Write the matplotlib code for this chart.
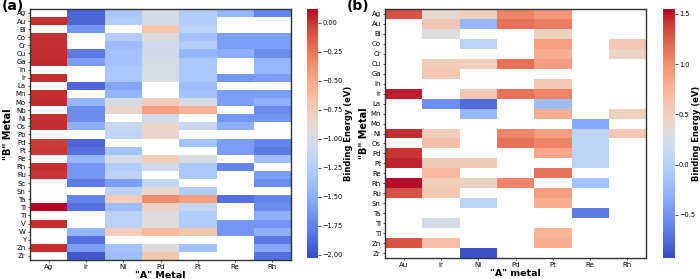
import numpy as np
import matplotlib
matplotlib.use("Agg")
import matplotlib.pyplot as plt

nan = np.nan

# ---- panel (a) ----
a_rows = ["Ag", "Au", "Bi", "Co", "Cr", "Cu", "Ga", "In", "Ir", "La", "Mn", "Mo",
          "Nb", "Ni", "Os", "Pb", "Pd", "Pt", "Re", "Rh", "Ru", "Sc", "Sn", "Ta",
          "Ti", "Tl", "V", "W", "Y", "Zn", "Zr"]
a_cols = ["Ag", "Ir", "Ni", "Pd", "Pt", "Re", "Rh"]

a_Ag = [nan, 0.02, nan, 0.02, 0.02, 0.03, 0.04, nan, 0.03, nan, 0.03, 0.04, nan, 0.02,
        0.03, nan, -0.02, 0.0, nan, 0.02, 0.01, nan, nan, nan, 0.12, nan, 0.02, nan,
        nan, 0.02, nan]
a_Ir = [-1.9, -1.9, -1.65, nan, nan, -1.8, -1.6, nan, nan, -1.9, nan, -1.45, -1.7, -1.7,
        -1.5, nan, -1.9, -1.85, -1.45, -1.65, -1.65, -1.8, nan, -1.75, -1.85, nan, nan,
        -1.45, -1.85, -1.6, -1.97]
a_Ni = [-1.3, -1.25, nan, -1.25, -1.4, -1.35, -1.35, -1.3, -1.3, -1.55, -1.45, -1.0,
        -0.85, nan, -1.1, -1.15, nan, -1.35, -1.0, -1.25, -1.2, -1.6, -1.2, -0.75, -1.4,
        -1.2, -1.2, -0.75, nan, -1.35, -1.4]
a_Pd = [-1.0, -1.05, -0.7, -0.95, -1.05, -1.05, -1.0, -1.0, -1.0, nan, nan, -0.75,
        -0.45, -1.05, -0.85, -0.85, nan, nan, -0.75, -1.05, nan, -1.15, -0.85, -0.35,
        -0.8, -0.95, -0.95, -0.6, nan, -0.95, -0.7]
a_Pt = [-1.25, -1.25, -1.2, -1.35, -1.25, -1.45, -1.3, -1.3, -1.3, -1.4, -1.35, -1.0,
        -0.55, nan, -1.1, nan, -1.35, nan, -1.0, -1.3, -1.3, nan, -1.25, -0.45, -1.15,
        -1.25, -1.25, -0.7, nan, -1.35, nan]
a_Re = [-1.45, nan, nan, -1.6, -1.6, -1.5, nan, nan, -1.65, nan, -1.6, -1.6, nan, -1.65,
        -1.5, nan, -1.6, -1.6, nan, -1.75, nan, nan, nan, -1.85, nan, nan, -1.65, -1.65,
        nan, nan, nan]
a_Rh = [-1.75, nan, nan, -1.6, -1.6, -1.7, -1.45, -1.45, -1.6, nan, -1.6, -1.5, -1.7,
        -1.65, nan, nan, -1.75, -1.8, -1.4, nan, -1.6, -1.7, nan, -1.75, -1.7, -1.5,
        -1.65, -1.5, -1.8, -1.55, -1.85]

# ---- panel (b) ----
b_rows = ["Ag", "Au", "Bi", "Co", "Cr", "Cu", "Ga", "In", "Ir", "La", "Mn", "Mo", "Ni",
          "Os", "Pd", "Pt", "Re", "Rh", "Ru", "Sn", "Ta", "Ti", "Tl", "Zn", "Zr"]
b_cols = ["Au", "Ir", "Ni", "Pd", "Pt", "Re", "Rh"]

b_Au = [1.3, nan, nan, nan, nan, nan, nan, nan, 1.5, nan, nan, nan, 1.45, nan, 1.42,
        1.48, nan, 1.53, 1.3, nan, nan, nan, nan, 1.3, nan]
b_Ir = [0.4, 0.6, 0.3, nan, nan, 0.55, 0.6, nan, nan, -0.55, nan, nan, 0.55, 0.65, nan,
        0.55, 0.7, 0.55, 0.6, nan, nan, 0.25, nan, 0.65, nan]
b_Ni = [0.5, -0.25, nan, 0.05, nan, 0.5, nan, nan, 0.6, -0.75, -0.25, nan, nan, nan, nan,
        0.55, nan, 0.5, nan, 0.05, nan, nan, nan, nan, -0.9]
b_Pd = [1.05, 1.15, nan, nan, nan, 1.15, nan, nan, 1.15, nan, nan, nan, 1.05, 1.15, nan,
        nan, nan, 1.05, nan, nan, nan, nan, nan, nan, nan]
b_Pt = [0.95, 1.1, 0.5, 0.9, 0.8, 0.9, nan, 0.6, 1.05, -0.2, 0.8, nan, 0.9, 1.05, 0.85,
        nan, 1.15, nan, 0.9, 0.8, nan, nan, 0.75, 0.8, nan]
b_Re = [nan, nan, nan, nan, nan, nan, nan, nan, nan, nan, nan, -0.35, 0.05, 0.05, 0.05,
        0.05, nan, -0.15, nan, nan, -0.65, nan, nan, nan, nan]
b_Rh = [nan, nan, nan, 0.6, 0.45, nan, nan, nan, nan, nan, 0.5, nan, 0.6, nan, nan, nan,
        nan, nan, nan, nan, nan, nan, nan, nan, nan]


def draw(ax, cax, data, rows, cols, vmin, vmax, cticks, xlabel, ylab_x, cblab_x):
    m = np.ma.masked_invalid(np.array(data, dtype=float).T)
    mesh = ax.pcolormesh(m, cmap="coolwarm", vmin=vmin, vmax=vmax)
    ax.set_xlim(0, len(cols))
    ax.set_ylim(len(rows), 0)
    ax.set_xticks(np.arange(len(cols)) + 0.5)
    ax.set_xticklabels(cols, fontsize=5)
    ax.set_yticks(np.arange(len(rows)) + 0.5)
    ax.set_yticklabels(rows, fontsize=5)
    ax.tick_params(length=1.5, width=0.5, pad=1.5)
    for s in ax.spines.values():
        s.set_linewidth(1.0)
        s.set_color("#333333")
    ax.set_ylabel('"B" Metal', fontsize=7, fontweight="bold")
    ax.yaxis.set_label_coords(ylab_x, 0.5)
    # x label sits just under the tick labels
    ax.text(0.5, -0.042, xlabel, transform=ax.transAxes, fontsize=6.8,
            fontweight="bold", ha="center", va="top")
    cb = plt.colorbar(mesh, cax=cax)
    cb.set_ticks(cticks)
    cb.ax.tick_params(labelsize=4.8, length=2, width=0.5, pad=1)
    cb.outline.set_visible(False)
    cb.set_label("Binding Energy (eV)", fontsize=6, fontweight="bold")
    cb.ax.yaxis.set_label_coords(cblab_x, 0.5)


fig = plt.figure(figsize=(7.0, 2.79), dpi=100)
ax_a = fig.add_axes([0.0429, 0.068, 0.373, 0.900])
cax_a = fig.add_axes([0.4386, 0.075, 0.0157, 0.893])
ax_b = fig.add_axes([0.550, 0.075, 0.373, 0.893])
cax_b = fig.add_axes([0.947, 0.075, 0.0171, 0.893])

draw(ax_a, cax_a, [a_Ag, a_Ir, a_Ni, a_Pd, a_Pt, a_Re, a_Rh], a_rows, a_cols,
     -2.03, 0.12, [0.0, -0.25, -0.5, -0.75, -1.0, -1.25, -1.5, -1.75, -2.0],
     '"A" Metal', -0.065, 3.35)
draw(ax_b, cax_b, [b_Au, b_Ir, b_Ni, b_Pd, b_Pt, b_Re, b_Rh], b_rows, b_cols,
     -0.93, 1.55, [-0.5, 0.0, 0.5, 1.0, 1.5], '"A" metal', -0.06, 2.45)

fig.text(0.002, 0.98, "(a)", fontsize=10, fontweight="bold", va="center", ha="left")
fig.text(0.496, 0.98, "(b)", fontsize=10, fontweight="bold", va="center", ha="left")

fig.savefig("out.png", dpi=100)
plt.close(fig)
